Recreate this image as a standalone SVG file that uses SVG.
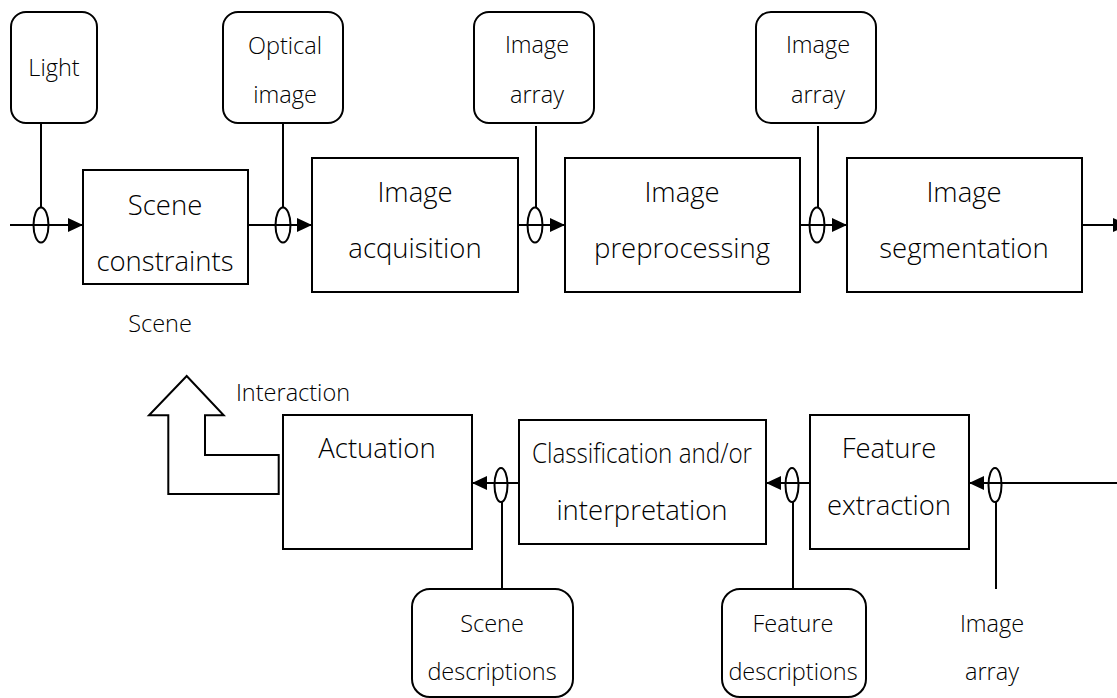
<svg xmlns="http://www.w3.org/2000/svg" width="1117" height="698" viewBox="0 0 1117 698">
<defs>
<style>
.box{fill:#fff;stroke:#000;stroke-width:2}
.rbox{fill:#fff;stroke:#000;stroke-width:2}
.ln{fill:none;stroke:#000;stroke-width:2}
.el{fill:none;stroke:#000;stroke-width:2}
.big{font-family:"Open Sans","Noto Sans",sans-serif;font-weight:300;font-size:27.5px;fill:#000;text-anchor:middle}
.sm{font-family:"Open Sans","Noto Sans",sans-serif;font-weight:300;font-size:23.5px;fill:#000;text-anchor:middle}
</style>
<marker id="ah" markerUnits="userSpaceOnUse" markerWidth="16" markerHeight="16" refX="15" refY="7" orient="auto">
<path d="M0,0 L15,7 L0,14 z" fill="#000"/>
</marker>
</defs>
<rect width="1117" height="698" fill="#fff"/>
<g id="connectors">
<line class="ln" x1="10" y1="225" x2="83" y2="225" marker-end="url(#ah)"/>
<line class="ln" x1="41" y1="123" x2="41" y2="208"/>
<ellipse class="el" cx="41" cy="225" rx="7.5" ry="17.5"/>
<line class="ln" x1="248" y1="225" x2="312" y2="225" marker-end="url(#ah)"/>
<line class="ln" x1="283" y1="123" x2="283" y2="208"/>
<ellipse class="el" cx="283" cy="225" rx="7.5" ry="17.5"/>
<line class="ln" x1="518" y1="225" x2="565" y2="225" marker-end="url(#ah)"/>
<line class="ln" x1="536" y1="126" x2="536" y2="208"/>
<ellipse class="el" cx="535" cy="225" rx="7.5" ry="17.5"/>
<line class="ln" x1="800" y1="225" x2="847" y2="225" marker-end="url(#ah)"/>
<line class="ln" x1="818" y1="126" x2="818" y2="208"/>
<ellipse class="el" cx="817" cy="225" rx="7.5" ry="17.5"/>
<line class="ln" x1="1082" y1="225" x2="1128" y2="225" marker-end="url(#ah)"/>
<line class="ln" x1="1117" y1="483" x2="969" y2="483" marker-end="url(#ah)"/>
<line class="ln" x1="996" y1="502" x2="996" y2="589"/>
<ellipse class="el" cx="995" cy="485" rx="6.5" ry="17"/>
<line class="ln" x1="810" y1="483" x2="766" y2="483" marker-end="url(#ah)"/>
<line class="ln" x1="793" y1="502" x2="793" y2="589"/>
<ellipse class="el" cx="792" cy="485" rx="6.5" ry="17"/>
<line class="ln" x1="519" y1="483" x2="472" y2="483" marker-end="url(#ah)"/>
<line class="ln" x1="502" y1="502" x2="502" y2="589"/>
<ellipse class="el" cx="501" cy="485" rx="6.5" ry="17"/>
</g>
<g id="light"><rect class="rbox" x="11" y="12" width="86" height="111" rx="15"/><text class="sm" x="54" y="76">Light</text></g>
<g id="optical-image"><rect class="rbox" x="223" y="12" width="120" height="111" rx="15"/><text class="sm" x="285" y="54">Optical</text><text class="sm" x="285" y="103">image</text></g>
<g id="image-array-1"><rect class="rbox" x="474" y="12" width="120" height="111" rx="15"/><text class="sm" x="537" y="53">Image</text><text class="sm" x="537" y="103">array</text></g>
<g id="image-array-2"><rect class="rbox" x="756" y="12" width="120" height="111" rx="15"/><text class="sm" x="818" y="53">Image</text><text class="sm" x="818" y="103">array</text></g>
<g id="scene-constraints"><rect class="box" x="83" y="170" width="165" height="114"/><text class="big" x="165" y="215">Scene</text><text class="big" x="165" y="271">constraints</text></g>
<g id="scene-label"><text class="sm" x="160" y="332">Scene</text></g>
<g id="image-acquisition"><rect class="box" x="312" y="158" width="206" height="134"/><text class="big" x="415" y="202">Image</text><text class="big" x="415" y="258">acquisition</text></g>
<g id="image-preprocessing"><rect class="box" x="565" y="158" width="235" height="134"/><text class="big" x="682" y="202">Image</text><text class="big" x="682" y="258">preprocessing</text></g>
<g id="image-segmentation"><rect class="box" x="847" y="158" width="235" height="134"/><text class="big" x="964" y="202">Image</text><text class="big" x="964" y="258">segmentation</text></g>
<g id="interaction"><polygon class="ln" points="186.7,376 149,415.3 168.3,415.3 168.3,494 278.7,494 278.7,455 205,455 205,415.3 223.7,415.3"/><text class="sm" x="293" y="401">Interaction</text></g>
<g id="actuation"><rect class="box" x="283" y="415" width="189" height="134"/><text class="big" x="377" y="458">Actuation</text></g>
<g id="classification"><rect class="box" x="519" y="420" width="247" height="124"/><text class="big" x="642" y="463" textLength="220" lengthAdjust="spacingAndGlyphs">Classification and/or</text><text class="big" x="642" y="520">interpretation</text></g>
<g id="feature-extraction"><rect class="box" x="810" y="415" width="159" height="134"/><text class="big" x="889" y="458">Feature</text><text class="big" x="889" y="515">extraction</text></g>
<g id="scene-descriptions"><rect class="rbox" x="412" y="589" width="161" height="108" rx="18"/><text class="sm" x="492" y="632">Scene</text><text class="sm" x="492" y="680">descriptions</text></g>
<g id="feature-descriptions"><rect class="rbox" x="722" y="589" width="144" height="108" rx="18"/><text class="sm" x="793" y="632">Feature</text><text class="sm" x="793" y="680">descriptions</text></g>
<g id="image-array-3"><text class="sm" x="992" y="632">Image</text><text class="sm" x="992" y="680">array</text></g>
</svg>
